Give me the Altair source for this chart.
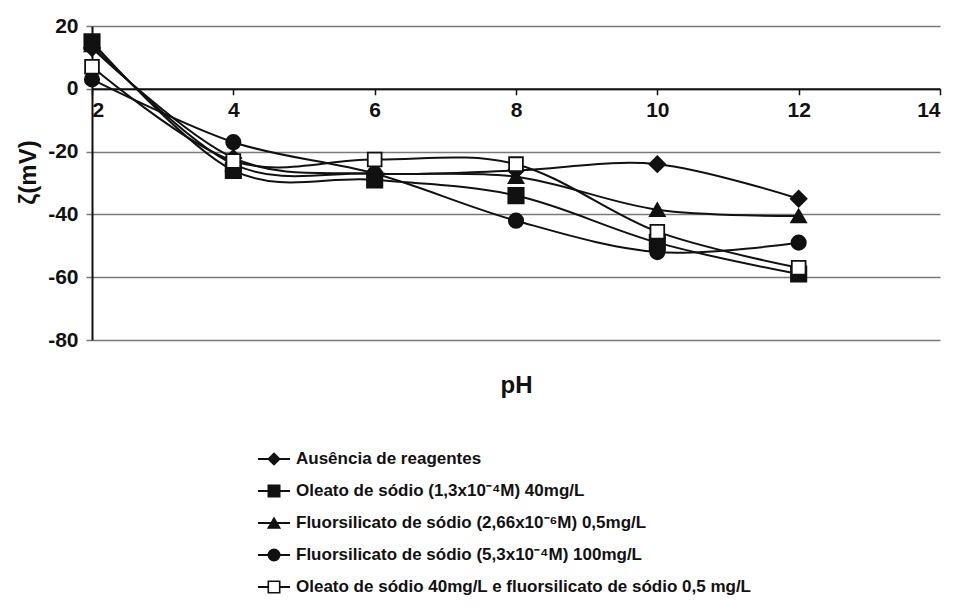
import altair as alt
import pandas as pd

series = [
    "Ausência de reagentes",
    "Oleato de sódio (1,3x10⁻⁴M) 40mg/L",
    "Fluorsilicato de sódio (2,66x10⁻⁶M) 0,5mg/L",
    "Fluorsilicato de sódio (5,3x10⁻⁴M) 100mg/L",
    "Oleato de sódio 40mg/L e fluorsilicato de sódio 0,5 mg/L",
]
ph = [2, 4, 6, 8, 10, 12]
ausencia = [13, -22, -27, -26, -24, -35]
oleato = [15, -26, -29, -34, -49, -59]
fluor_low = [14, -24, -27, -28, -38.5, -40.5]
fluor_high = [3, -17, -27, -42, -52, -49]
mistura = [7, -23, -22.5, -24, -45.5, -57]

values = [ausencia, oleato, fluor_low, fluor_high, mistura]
shapes = ["diamond", "square", "triangle-up", "circle", "square"]
fills = ["#111111", "#111111", "#111111", "#111111", "#ffffff"]
sizes = [250, 190, 210, 170, 180]

rows = []
for s, vals in zip(series, values):
    for p, v in zip(ph, vals):
        rows.append({"series": s, "pH": p, "zeta": v})
df = pd.DataFrame(rows)

leg = pd.DataFrame({"series": series, "order": list(range(len(series)))})

FONT = "Liberation Sans"

xenc = alt.X(
    "pH:Q",
    scale=alt.Scale(domain=[2, 14], nice=False, zero=False),
    axis=alt.Axis(
        values=[2, 4, 6, 8, 10, 12, 14],
        orient="bottom",
        offset=-251.2,
        grid=False,
        domainColor="#111111",
        domainWidth=2,
        tickColor="#111111",
        tickWidth=1.5,
        tickSize=6,
        labelFont=FONT,
        labelFontSize=21,
        labelFontWeight="bold",
        labelColor="#111111",
        labelPadding=5,
        title="pH",
        titleFont=FONT,
        titleFontSize=24,
        titleFontWeight="bold",
        titleColor="#111111",
        titleY=297,
        titleBaseline="middle",
    ),
)
yscale = alt.Scale(domain=[-80, 20], nice=False, zero=False)
yenc = alt.Y(
    "zeta:Q",
    scale=yscale,
    axis=alt.Axis(
        values=[20, 0, -20, -40, -60, -80],
        labelExpr="'' + datum.value",
        grid=True,
        gridColor="#7a7a7a",
        gridWidth=1.5,
        domainColor="#111111",
        domainWidth=2,
        tickColor="#7a7a7a",
        tickWidth=1.5,
        tickSize=6,
        labelFont=FONT,
        labelFontSize=21,
        labelFontWeight="bold",
        labelColor="#111111",
        labelPadding=8,
        title="ζ(mV)",
        titleFont=FONT,
        titleFontSize=24,
        titleFontWeight="bold",
        titleColor="#111111",
        titleAngle=-90,
        titleX=-64,
        titleY=146,
        titleAlign="center",
        titleBaseline="middle",
    ),
)

shape_enc = alt.Shape("series:N", scale=alt.Scale(domain=series, range=shapes), legend=None)
fill_enc = alt.Fill("series:N", scale=alt.Scale(domain=series, range=fills), legend=None)

base = alt.Chart(df)
lines = base.mark_line(interpolate="cardinal", strokeWidth=2, color="#111111").encode(
    x=xenc, y=yenc, detail="series:N"
)
points = base.mark_point(opacity=1, stroke="#111111", strokeWidth=1.8).encode(
    x=xenc,
    y=yenc,
    shape=shape_enc,
    fill=fill_enc,
    size=alt.Size("series:N", scale=alt.Scale(domain=series, range=sizes), legend=None),
)

# legend rows: pixel rows below the plot (identity y scale)
leg_base = alt.Chart(leg).transform_calculate(py="433 + datum.order * 32")
ly = alt.Y("py:Q", scale=None)
leg_rule = leg_base.mark_rule(color="#111111", strokeWidth=2).encode(
    x=alt.value(166), x2=alt.value(198), y=ly
)
leg_pt = leg_base.mark_point(opacity=1, stroke="#111111", strokeWidth=1.6, size=130).encode(
    x=alt.value(182), y=ly, shape=shape_enc, fill=fill_enc
)
leg_txt = leg_base.mark_text(
    align="left", baseline="middle", font=FONT, fontSize=17, fontWeight="bold", color="#111111"
).encode(x=alt.value(204), y=ly, text="series:N")

chart = (
    alt.layer(lines, points, leg_rule, leg_pt, leg_txt)
    .properties(
        width=848,
        height=314,
        background="white",
        padding={"left": 8, "top": 7, "right": 5, "bottom": 5},
    )
    .configure(style={"cell": {"stroke": "transparent", "strokeWidth": 0}})
    .configure_view(stroke="transparent", strokeWidth=0, strokeOpacity=0)
    .configure_axisX(grid=False)
)

chart.save("out.html", embed_options={"renderer": "svg", "actions": False})
